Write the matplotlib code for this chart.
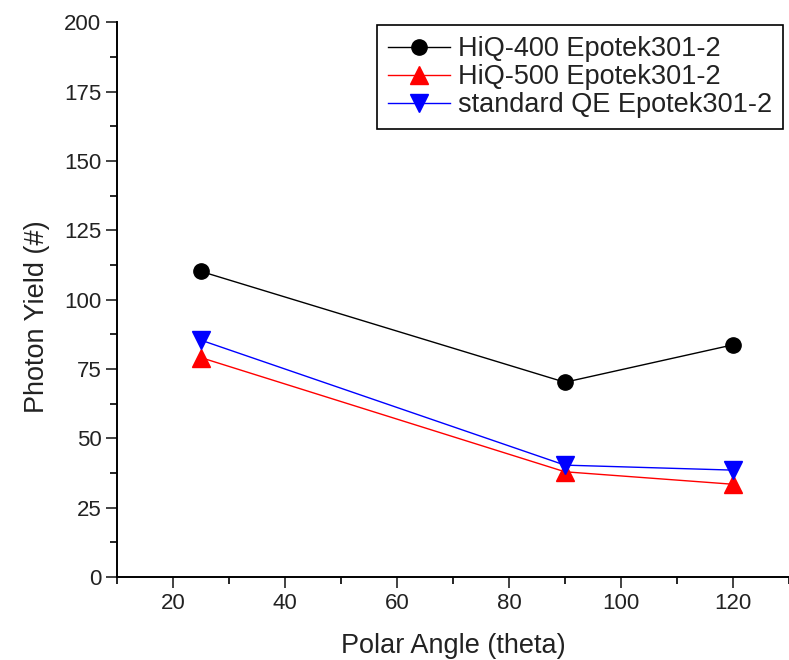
import matplotlib
matplotlib.use("Agg")
import matplotlib.pyplot as plt
from matplotlib.ticker import MultipleLocator

plt.rcParams['font.family'] = ['Liberation Sans', 'DejaVu Sans']

# polar angle (theta) and photon yield per sample
angles = [25, 90, 120]
hiq400 = [110.2, 70.2, 83.7]
hiq500 = [79.1, 37.9, 33.4]
standard_qe = [85.4, 40.3, 38.5]

labels = ['HiQ-400 Epotek301-2', 'HiQ-500 Epotek301-2', 'standard QE Epotek301-2']

fig = plt.figure(figsize=(7.89, 6.60), dpi=100)
ax = fig.add_axes([0.148, 0.126, 0.852, 0.840])

ax.plot(angles, hiq400, color='black', lw=1.0, marker='o', markersize=11, label=labels[0])
ax.plot(angles, hiq500, color='red', lw=1.0, marker='^', markersize=12.5, label=labels[1])
ax.plot(angles, standard_qe, color='blue', lw=1.0, marker='v', markersize=12.5, label=labels[2])

ax.set_xlim(10, 130)
ax.set_ylim(0, 200)
ax.xaxis.set_major_locator(MultipleLocator(20))
ax.xaxis.set_minor_locator(MultipleLocator(10))
ax.yaxis.set_major_locator(MultipleLocator(25))
ax.yaxis.set_minor_locator(MultipleLocator(12.5))
ax.set_xticks([20, 40, 60, 80, 100, 120])

for side in ['top', 'right']:
    ax.spines[side].set_visible(False)
for side in ['left', 'bottom']:
    ax.spines[side].set_linewidth(1.4)

ax.tick_params(which='major', direction='out', length=8, width=1.2, labelsize=16, colors='#222222')
ax.tick_params(axis='y', which='major', pad=3)
ax.tick_params(which='minor', direction='out', length=5, width=1.2)

ax.set_xlabel('Polar Angle (theta)', fontsize=19.5, color='#222222', labelpad=14)
ax.set_ylabel('Photon Yield (#)', fontsize=19.5, color='#222222')
ax.yaxis.set_label_coords(-0.10, 0.47)

leg = ax.legend(loc='upper right', bbox_to_anchor=(0.991, 0.995), borderaxespad=0,
                fontsize=19.5, fancybox=False, framealpha=1, edgecolor='black',
                handlelength=2.3, handletextpad=0.3, labelspacing=0.08,
                borderpad=0.4)
leg.get_frame().set_linewidth(1.2)
for t in leg.get_texts():
    t.set_color('#222222')

fig.savefig('out.png', dpi=100)
